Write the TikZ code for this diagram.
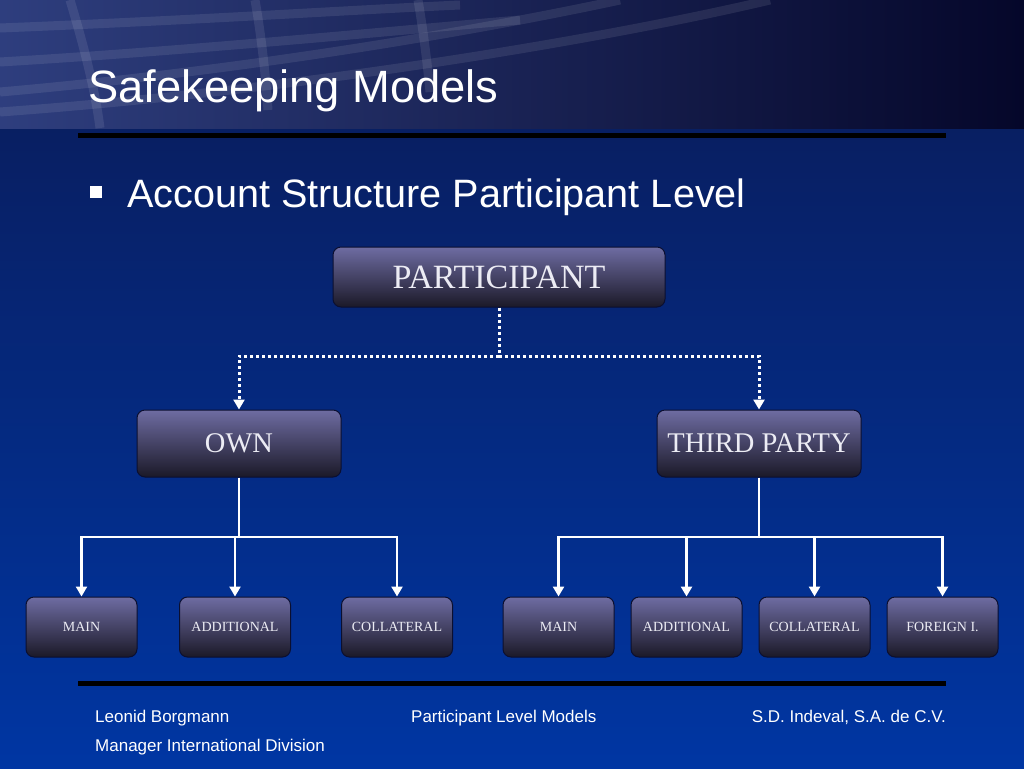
\documentclass[tikz,border=0pt]{standalone}
\usepackage{fontspec}
\setmainfont{Liberation Serif}
\newfontfamily\slidefont{Liberation Sans}
\usepackage{xcolor}
\usetikzlibrary{arrows.meta, positioning}

\definecolor{bgtop}{HTML}{0A1A55}
\definecolor{bgbot}{HTML}{0036A3}
\definecolor{hdrdark}{HTML}{05072A}
\definecolor{hdrlite}{HTML}{2E3E7E}
\definecolor{boxtop}{HTML}{6E6CA2}
\definecolor{boxbot}{HTML}{1B1928}
\definecolor{boxline}{HTML}{0B0F30}
\definecolor{boxtext}{HTML}{ECECF4}

\tikzset{
  acct/.style={draw=boxline, line width=1pt, rounded corners=8pt,
    top color=boxtop, bottom color=boxbot, text=boxtext, inner sep=0pt},
  topbox/.style={acct, minimum width=332pt, minimum height=60pt,
    font=\fontsize{34}{36}\selectfont},
  midbox/.style={acct, minimum width=204pt, minimum height=67pt,
    font=\fontsize{28.5}{30}\selectfont},
  leafbox/.style={acct, minimum width=111pt, minimum height=60pt,
    font=\fontsize{14}{16}\selectfont},
  dotlink/.style={white, line width=3pt, dash pattern=on 3pt off 3pt},
  solidlink/.style={white, line width=2.5pt},
  tip/.style={-{Triangle[width=11pt,length=10pt]}},
  footer/.style={text=white, inner sep=0pt, font=\slidefont\fontsize{17}{20}\selectfont}
}

\begin{document}
\begin{tikzpicture}[x=1pt, y=-1pt]
  % Background
  \fill[top color=bgtop, bottom color=bgbot] (0,0) rectangle (1024,768);
  \useasboundingbox (0,0) rectangle (1024,768);
  \fill[left color=hdrlite, right color=hdrdark] (0,0) rectangle (1024,128);
  \begin{scope}[white, opacity=0.09, line width=9pt]
    \draw (0,112) .. controls (300,90) and (600,40) .. (770,0);
    \draw (0,92) .. controls (250,70) and (480,30) .. (620,0);
    \draw (0,62) .. controls (200,50) and (400,30) .. (520,20);
    \draw (0,28) .. controls (200,20) and (350,10) .. (460,5);
    \draw (70,0) .. controls (85,50) and (95,90) .. (100,128);
    \draw (255,0) .. controls (262,40) and (266,80) .. (268,110);
    \draw (418,0) .. controls (424,35) and (428,70) .. (430,92);
  \end{scope}
  \fill[black] (78,133) rectangle (946,138);
  \fill[black] (78,681) rectangle (946,686);

  % Headings
  \node[anchor=base west, inner sep=0pt, text=white,
        font=\slidefont\fontsize{45.3}{50}\selectfont] (title) at (88,102) {Safekeeping Models};
  \fill[white] (90,186) rectangle (102,198);
  \node[anchor=base west, inner sep=0pt, text=white,
        font=\slidefont\fontsize{39.6}{44}\selectfont] (sub) at (127,207) {Account Structure Participant Level};

  % Account boxes
  \node[topbox] (part) at (499,277) {PARTICIPANT};
  \node[midbox] (own) at (239,443.5) {OWN};
  \node[midbox] (third) at (759,443.5) {THIRD PARTY};

  \node[leafbox] (om) at (81.5,627) {MAIN};
  \node[leafbox] (oa) at (235,627) {ADDITIONAL};
  \node[leafbox] (oc) at (397,627) {COLLATERAL};
  \node[leafbox] (tm) at (558.5,627) {MAIN};
  \node[leafbox] (ta) at (686.5,627) {ADDITIONAL};
  \node[leafbox] (tc) at (814.5,627) {COLLATERAL};
  \node[leafbox] (tf) at (942.5,627) {FOREIGN I.};

  % Junctions
  \coordinate (pj) at (499,356);
  \coordinate (oj) at (239,537);
  \coordinate (tj) at (759,537);

  % Connectors
  \draw[dotlink] (part.south) -- (pj);
  \draw[dotlink, tip] (pj) -| (own.north);
  \draw[dotlink, tip] (pj) -| (third.north);

  \draw[solidlink] (own.south) -- (oj);
  \foreach \leaf in {om, oa, oc}
    \draw[solidlink, tip] (oj) -| (\leaf.north);
  \draw[solidlink] (third.south) -- (tj);
  \foreach \leaf in {tm, ta, tc, tf}
    \draw[solidlink, tip] (tj) -| (\leaf.north);

  % Footer
  \node[footer, anchor=base west] (author) at (95,722) {Leonid Borgmann};
  \node[footer, anchor=base west] (role) at (95,751) {Manager International Division};
  \node[footer, anchor=base west] (topic) at (411,722) {Participant Level Models};
  \node[footer, anchor=base east] (firm) at (946,722) {S.D. Indeval, S.A. de C.V.};
\end{tikzpicture}
\end{document}
